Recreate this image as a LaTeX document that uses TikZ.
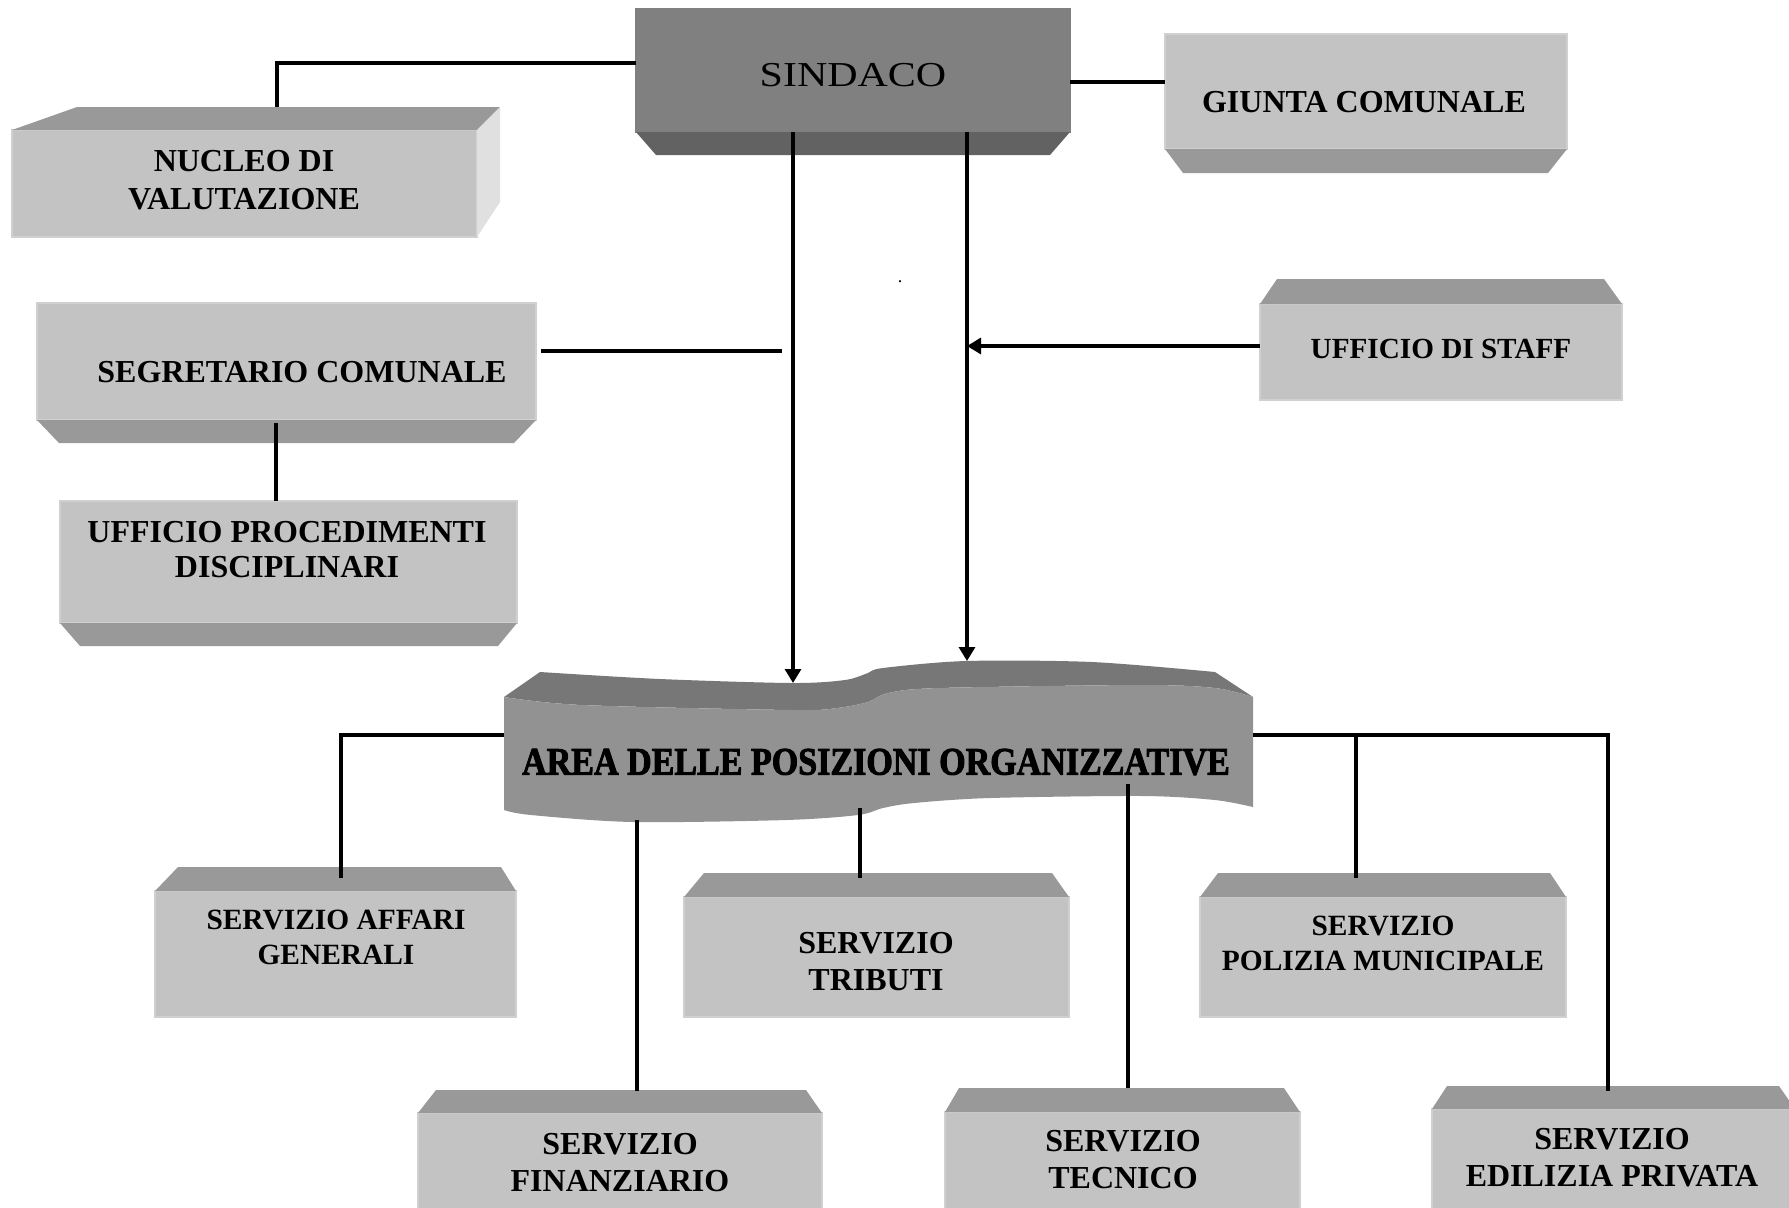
\documentclass[tikz,border=0pt]{standalone}
\usepackage{fontspec}
\setmainfont{Liberation Serif}
\newfontfamily\areafont[FakeBold=2.5]{Liberation Serif}
\usetikzlibrary{calc,arrows.meta}
\definecolor{frontc}{HTML}{C3C3C3}
\definecolor{edgec}{HTML}{D0D0D0}
\definecolor{bevc}{HTML}{999999}
\definecolor{sidec}{HTML}{E0E0E0}
\definecolor{sindc}{HTML}{808080}
\definecolor{sindbev}{HTML}{626262}
\definecolor{areatop}{HTML}{777777}
\definecolor{areafront}{HTML}{929292}
\newcommand\boxfront[6][]{\node[front,#1,minimum width={(#5-#3)*0.5pt},minimum height={(#6-#4)*0.5pt}] (#2) at ({(#3+#5)/2},{(#4+#6)/2}) {};}
\newcommand\topbev[5][bevc]{\fill[#1] (#2.north west) -- ($(#2.north west)+(#3,-#5)$) -- ($(#2.north east)+(-#4,-#5)$) -- (#2.north east) -- cycle;}
\newcommand\botbev[5][bevc]{\fill[#1] (#2.south west) -- ($(#2.south west)+(#3,#5)$) -- ($(#2.south east)+(-#4,#5)$) -- (#2.south east) -- cycle;}
\newcommand\lbf[2]{\bfseries\fontsize{#1}{#2}\selectfont}
\begin{document}
\begin{tikzpicture}[x=0.5pt,y=-0.5pt,
  front/.style={fill=frontc,draw=edgec,line width=0.8pt,inner sep=0pt,outer sep=0pt},
  lab/.style={align=center,inner sep=0pt,text=black},
  conn/.style={line width=1.6pt,black},
  arr/.style={conn,-{Triangle[length=7pt,width=8pt]}}]
\useasboundingbox (0,0) rectangle (1789,1207);
\clip (0,0) rectangle (1789,1207);
\fill[white] (0,0) rectangle (1789,1207);

% SINDACO
\boxfront[fill=sindc,draw=sindc]{sind}{636}{9}{1070}{132}
\botbev[sindbev]{sind}{20}{20}{23}
% NUCLEO
\boxfront{nuc}{12}{130}{477}{237}
\topbev{nuc}{65}{-23}{23}
\fill[sidec] (nuc.north east) -- ++(23,-23) -- ++(0,95) -- (nuc.south east) -- cycle;
% GIUNTA
\boxfront{giu}{1165}{34}{1567}{149}
\botbev{giu}{18}{19}{24}
% STAFF
\boxfront{staff}{1260}{304}{1622}{400}
\topbev{staff}{17}{18}{25}
% SEGRETARIO
\boxfront{seg}{37}{303}{536}{420}
\botbev{seg}{22}{22}{23}
% UFFICIO PROC
\boxfront{upd}{60}{501}{517}{623}
\botbev{upd}{20}{19}{23}
% SERVIZI
\boxfront{aff}{155}{891}{516}{1017}
\topbev{aff}{23}{15}{24}
\boxfront{tri}{684}{897}{1069}{1017}
\topbev{tri}{20}{17}{24}
\boxfront{pol}{1200}{897}{1566}{1017}
\topbev{pol}{18}{16}{24}
\boxfront{fin}{418}{1113}{822}{1230}
\topbev{fin}{18}{16}{23}
\boxfront{tec}{945}{1112}{1300}{1230}
\topbev{tec}{14}{16}{24}
\boxfront{edi}{1432}{1109}{1795}{1230}
\topbev{edi}{15}{16}{23}

% AREA banner
\fill[areatop] plot[smooth,tension=0.5] coordinates {(540,672) (660,679) (792,683) (845,680) (868,673) (883,668) (966,661) (1092,662) (1215,672)} -- (1253,697)
  -- plot[smooth,tension=0.5] coordinates {(1253,697) (1215,688) (1143,685) (939,688) (888,693) (868,702) (837,708) (792,710) (582,705) (504,697)} -- cycle;
\fill[areafront] plot[smooth,tension=0.5] coordinates {(504,697) (582,705) (792,710) (837,708) (868,702) (888,693) (939,688) (1143,685) (1215,688) (1253,697)} -- (1253,807)
  -- plot[smooth,tension=0.5] coordinates {(1253,807) (1215,800) (1143,796) (990,798) (914,803) (883,808) (858,815) (786,820) (633,822) (531,815) (504,810)} -- cycle;

% coordinates for connector ends
\coordinate (nucT) at (277,107);
\coordinate (areaA) at (793,683);
\coordinate (areaB) at (967,661);
\coordinate (staffT) at (967,346);
\coordinate (segT) at (782,351);
\coordinate (segB) at (276,423);
\coordinate (areaW) at (504,735);
\coordinate (areaE) at (1253,735);
\coordinate (polB) at (1356,735);
\coordinate (affT) at (341,878);
\coordinate (polT) at (1356,878);
\coordinate (ediT) at (1608,1091);
\coordinate (finB) at (637,820);
\coordinate (finT) at (637,1091);
\coordinate (triB) at (860,808);
\coordinate (triT) at (860,878);
\coordinate (tecB) at (1128,784);
\coordinate (tecT) at (1128,1088);

% connectors
\draw[conn] (sind.west |- 0,63) -| (nucT);
\draw[conn] (sind.east |- 0,82) -- (giu.west |- 0,82);
\draw[arr] (sind.south -| areaA) -- (areaA);
\draw[arr] (sind.south -| areaB) -- (areaB);
\draw[arr] (staff.west |- staffT) -- (staffT);
\draw[conn] ($(seg.east |- segT)+(5,0)$) -- (segT);
\draw[conn] (segB) -- (upd.north -| segB);
\draw[conn] (areaW) -| (affT);
\draw[conn] (areaE) -| (ediT);
\draw[conn] (polB) -- (polT);
\draw[conn] (finB) -- (finT);
\draw[conn] (triB) -- (triT);
\draw[conn] (tecB) -- (tecT);

% texts
\node[lab,font=\fontsize{17.5}{20}\selectfont] (tsind) at (853,75) {\scalebox{1.2}[1]{SINDACO}};
\node[lab,font=\lbf{16}{19}] (tnuc) at (244,180) {NUCLEO DI\\VALUTAZIONE};
\node[lab,font=\lbf{16}{19}] (tgiu) at (1364,102) {GIUNTA COMUNALE};
\node[lab,font=\lbf{14.6}{17}] (tstaff) at (1441,349) {UFFICIO DI STAFF};
\node[lab,font=\lbf{16}{19}] (tseg) at (302,372) {SEGRETARIO COMUNALE};
\node[lab,font=\lbf{16}{17.5}] (tupd) at (287,550) {UFFICIO PROCEDIMENTI\\DISCIPLINARI};
\node[lab,font=\areafont\bfseries\fontsize{18.5}{20}\selectfont] (tarea) at (876,762) {\scalebox{0.92}[1.05]{AREA DELLE POSIZIONI ORGANIZZATIVE}};
\node[lab,font=\lbf{14.7}{17.5}] (taff) at (336,937) {SERVIZIO AFFARI\\GENERALI};
\node[lab,font=\lbf{16}{18.5}] (ttri) at (876,962) {SERVIZIO\\TRIBUTI};
\node[lab,font=\lbf{14.7}{17.5}] (tpol) at (1383,943) {SERVIZIO\\POLIZIA MUNICIPALE};
\node[lab,font=\lbf{16}{18.5}] (tfin) at (620,1163) {SERVIZIO\\FINANZIARIO};
\node[lab,font=\lbf{16}{18.5}] (ttec) at (1123,1160) {SERVIZIO\\TECNICO};
\node[lab,font=\lbf{16}{18.5}] (tedi) at (1612,1158) {SERVIZIO\\EDILIZIA PRIVATA};
\node[lab,font=\fontsize{9}{9}\selectfont] (dot) at (900,282) {.};
\end{tikzpicture}
\end{document}
